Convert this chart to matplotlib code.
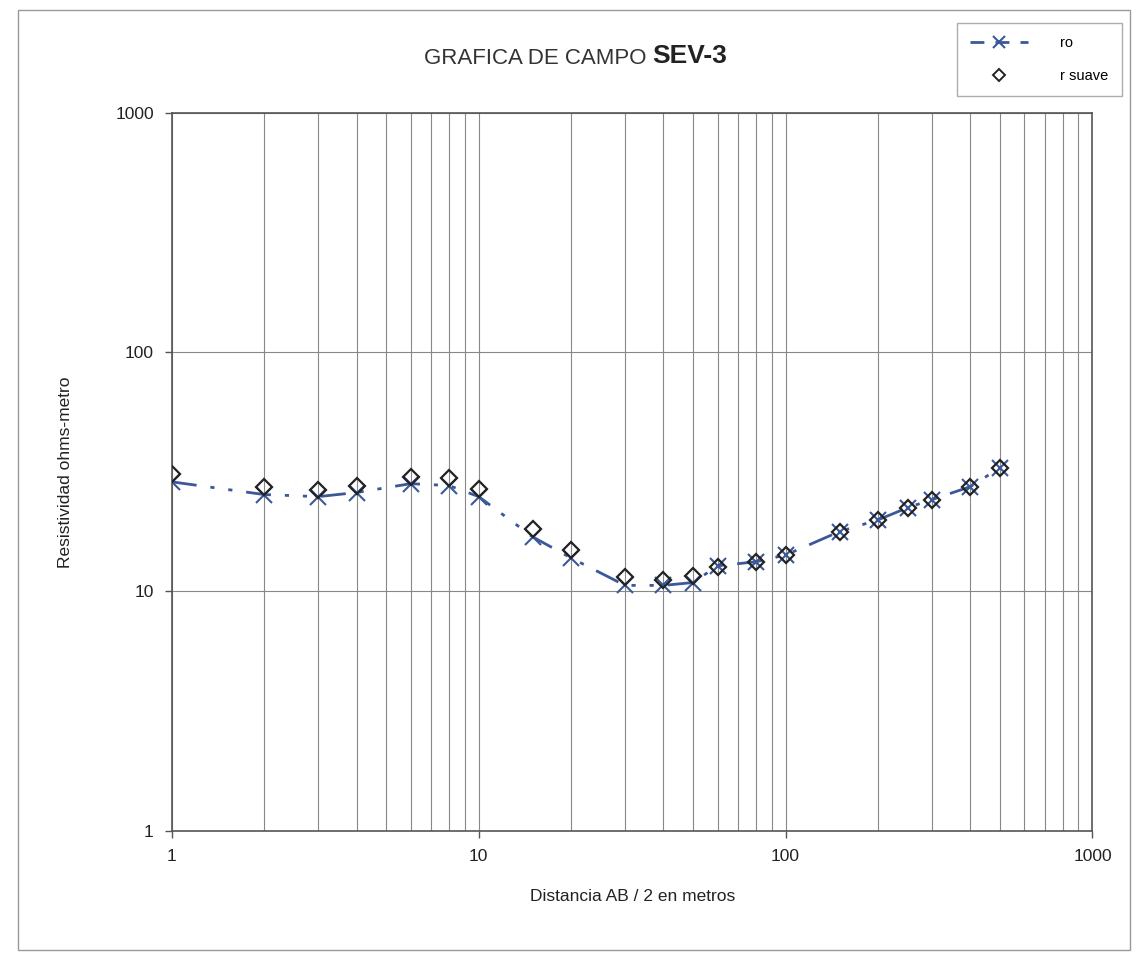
import matplotlib
matplotlib.use("Agg")
import matplotlib.pyplot as plt
from matplotlib.lines import Line2D
from matplotlib.ticker import FixedLocator, FixedFormatter, NullFormatter, LogLocator
from matplotlib.patches import Rectangle

plt.rcParams['font.family'] = ['Liberation Sans', 'DejaVu Sans']

# AB/2 distances (m)
distancia = [1, 2, 3, 4, 6, 8, 10, 15, 20, 30, 40, 50, 60, 80, 100,
             150, 200, 250, 300, 400, 500]
# field resistivity (ro)
ro = [28.7, 25.4, 24.9, 25.9, 28.2, 27.7, 24.9, 16.9, 13.8, 10.6, 10.6,
      10.9, 12.8, 13.3, 14.2, 17.8, 19.9, 22.4, 24.2, 27.4, 32.9]
# smoothed resistivity (r suave)
r_suave = [31.0, 27.4, 26.6, 27.7, 30.2, 29.9, 26.9, 18.3, 14.9, 11.5, 11.2,
           11.6, 12.7, 13.3, 14.2, 17.8, 19.9, 22.4, 24.2, 27.4, 32.9]

tick_vals = [1, 10, 100, 1000]
tick_labels = ["1", "10", "100", "1000"]

BLUE = "#3b5898"

fig = plt.figure(figsize=(11.38, 9.55), dpi=100)
ax = fig.add_axes([0.151, 0.130, 0.809, 0.752])

ax.set_xscale("log")
ax.set_yscale("log")
ax.set_xlim(1, 1000)
ax.set_ylim(1, 1000)

ax.plot(distancia, ro, color=BLUE, lw=2.0, linestyle=(0, (9, 5, 1.5, 5, 1.5, 5)),
        marker="x", markersize=11, markeredgewidth=1.5, zorder=3)
ax.plot(distancia, r_suave, linestyle="none", marker="D", markersize=8,
        markerfacecolor="none", markeredgecolor="#222222", markeredgewidth=1.6,
        zorder=4)

# grids: vertical at every log step, horizontal only at decades
ax.xaxis.set_major_locator(FixedLocator(tick_vals))
ax.xaxis.set_major_formatter(FixedFormatter(tick_labels))
ax.xaxis.set_minor_locator(LogLocator(base=10, subs=range(2, 10)))
ax.xaxis.set_minor_formatter(NullFormatter())
ax.yaxis.set_major_locator(FixedLocator(tick_vals))
ax.yaxis.set_major_formatter(FixedFormatter(tick_labels))
ax.yaxis.set_minor_locator(FixedLocator([]))
ax.grid(True, which="major", axis="both", color="#888888", lw=0.8)
ax.grid(True, which="minor", axis="x", color="#888888", lw=0.8)
ax.tick_params(which="minor", length=0)
ax.tick_params(which="major", length=5, width=1, color="#555555",
               labelsize=12.5, labelcolor="#222222", pad=8)
for s in ax.spines.values():
    s.set_color("#555555")
    s.set_linewidth(1.2)

ax.set_xlabel("Distancia AB / 2 en metros", fontsize=12.5, color="#222222", labelpad=18)
ax.set_ylabel("Resistividad ohms-metro", fontsize=12.5, color="#222222", labelpad=30)

# title in two parts (normal + bold)
fig.text(646 / 1138, 1 - 58 / 955, "GRAFICA DE CAMPO", ha="right", va="center",
         fontsize=16, color="#333333")
fig.text(652 / 1138, 1 - 56 / 955, "SEV-3", ha="left", va="center",
         fontsize=19, fontweight="bold", color="#222222")

# legend handles: simple dashed sample for "ro", small diamond for "r suave"
h_ro = Line2D([], [], color=BLUE, lw=2.0, linestyle=(0, (5, 4)),
              marker="x", markersize=8, markeredgewidth=1.5)
h_rs = Line2D([], [], linestyle="none", marker="D", markersize=6,
              markerfacecolor="none", markeredgecolor="#222222", markeredgewidth=1.4)
leg = fig.legend(handles=[h_ro, h_rs], labels=["ro", "r suave"], loc="upper right",
                 bbox_to_anchor=(1129 / 1138, 1 - 16 / 955),
                 fontsize=10.5, frameon=True, fancybox=False, handlelength=4.0,
                 borderpad=0.9, labelspacing=1.3, handletextpad=2.2)
leg.get_frame().set_edgecolor("#999999")
leg.get_frame().set_linewidth(1.0)

# outer chart border
fig.patches.append(Rectangle((18 / 1138, 5 / 955), 1112 / 1138, 940 / 955,
                             transform=fig.transFigure, fill=False,
                             edgecolor="#999999", lw=1.0))

fig.savefig("out.png", dpi=100)
